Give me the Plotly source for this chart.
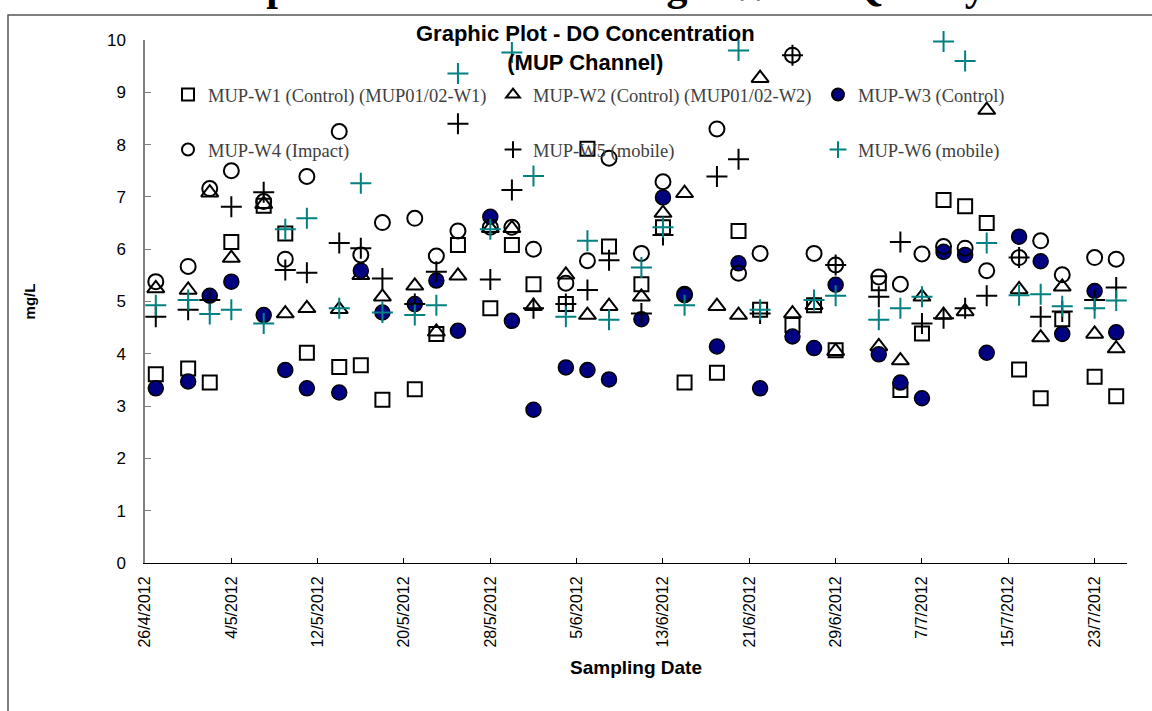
import pandas as pd
import plotly.graph_objects as go

# Sampling dates (three rounds per week)
sample_dates = [
    "2012-04-27", "2012-04-30", "2012-05-02", "2012-05-04", "2012-05-07", "2012-05-09",
    "2012-05-11", "2012-05-14", "2012-05-16", "2012-05-18", "2012-05-21", "2012-05-23",
    "2012-05-25", "2012-05-28", "2012-05-30", "2012-06-01", "2012-06-04", "2012-06-06",
    "2012-06-08", "2012-06-11", "2012-06-13", "2012-06-15", "2012-06-18", "2012-06-20",
    "2012-06-22", "2012-06-25", "2012-06-27", "2012-06-29", "2012-07-03", "2012-07-05",
    "2012-07-07", "2012-07-09", "2012-07-11", "2012-07-13", "2012-07-16", "2012-07-18",
    "2012-07-20", "2012-07-23", "2012-07-25",
]

# Dissolved oxygen (mg/L) per station
w1_control = [3.61, 3.72, 3.45, 6.14, 6.83, 6.30, 4.02, 3.75, 3.78, 3.12, 3.32, 4.38, 6.08,
              4.87, 6.08, 5.33, 4.95, 7.92, 6.05, 5.33, 6.42, 3.45, 3.64, 6.35, 4.84, 4.55,
              4.93, 4.07, 5.35, 3.31, 4.39, 6.94, 6.82, 6.50, 3.70, 3.15, 4.66, 3.56, 3.19]
w2_control = [5.25, 5.22, 7.08, 5.83, 6.86, 4.77, 4.87, 4.85, 5.50, 5.09, 5.30, 4.42, 5.49,
              6.40, 6.40, 4.91, 5.51, 4.74, 4.91, 5.09, 6.69, 7.07, 4.91, 4.74, 9.27, 4.77,
              4.93, 4.05, 4.14, 3.87, 5.09, 4.74, 4.81, 8.66, 5.23, 4.31, 5.28, 4.38, 4.10]
w3_control = [3.34, 3.47, 5.11, 5.38, 4.74, 3.69, 3.34, 3.26, 5.59, 4.79, 4.95, 5.40, 4.44,
              6.62, 4.63, 2.93, 3.74, 3.69, 3.51, 4.66, 6.99, 5.12, 4.14, 5.73, 3.34, 4.33,
              4.11, 5.32, 3.99, 3.45, 3.15, 5.95, 5.89, 4.02, 6.24, 5.77, 4.38, 5.20, 4.41]
w4_impact = [5.38, 5.67, 7.16, 7.50, 6.91, 5.81, 7.39, 8.25, 5.89, 6.51, 6.59, 5.87, 6.35,
             6.42, 6.42, 6.00, 5.35, 5.78, 7.74, 5.92, 7.29, 5.14, 8.30, 5.54, 5.92, 9.71,
             5.92, 5.70, 5.47, 5.33, 5.91, 6.05, 6.02, 5.59, 5.84, 6.16, 5.51, 5.84, 5.81]
w5_mobile = [4.71, 4.84, 5.03, 6.81, 7.09, 5.60, 5.55, 6.12, 6.02, 5.44, 4.95, 5.57, 8.40,
             5.42, 7.13, 4.87, 4.95, 5.22, 5.79, 4.77, 6.27, None, 7.39, 7.72, 4.77, 9.71,
             None, 5.70, 5.09, 6.14, 4.58, 4.68, 4.87, 5.11, 5.84, 4.71, 4.81, 5.03, 5.27]
w6_mobile = [4.93, 5.03, 4.76, 4.84, 4.58, 6.38, 6.59, 4.87, 7.26, 4.79, 4.74, 4.93, 9.36,
             6.38, 9.76, 7.40, 4.71, 6.16, 4.65, 5.65, 6.42, 4.93, None, 9.80, 4.84, None,
             5.03, 5.11, 4.65, 4.87, 5.09, 9.97, 9.60, 6.12, 5.12, 5.14, 4.91, 4.87, 5.02]

series_names = [
    "MUP-W1 (Control) (MUP01/02-W1)",
    "MUP-W2 (Control) (MUP01/02-W2)",
    "MUP-W3 (Control)",
    "MUP-W4 (Impact)",
    "MUP-W5 (mobile)",
    "MUP-W6 (mobile)",
]

# Date axis ticks every eight days
tick_dates = pd.date_range("2012-04-26", "2012-07-23", freq="8D")
tick_labels = [f"{d.day}/{d.month}/{d.year}" for d in tick_dates]

# Page geometry (pixels)
W, H = 1152, 711
ML, MR, MT, MB = 145, 25, 40, 148
PW = W - ML - MR
PH = H - MT - MB


def px_x(x):
    return (x - ML) / PW


def px_y(y):
    return (H - MB - y) / PH


NARROW = "Liberation Sans Narrow, Arial Narrow, Liberation Sans, Arial, sans-serif"
SANS = "Liberation Sans, Arial, sans-serif"
SERIF = "Liberation Serif, Times New Roman, serif"

styles = [
    dict(symbol="square-open", size=14, color="black", line=dict(color="black", width=2)),
    dict(symbol="triangle-up-open", size=15, color="black", line=dict(color="black", width=2)),
    dict(symbol="circle", size=15, color="#000080", line=dict(color="black", width=1.5)),
    dict(symbol="circle-open", size=15, color="black", line=dict(color="black", width=2)),
    dict(symbol="cross-thin", size=15, color="black", line=dict(color="black", width=2)),
    dict(symbol="cross-thin", size=15, color="#008080", line=dict(color="#008080", width=2)),
]

values = [w1_control, w2_control, w3_control, w4_impact, w5_mobile, w6_mobile]

fig = go.Figure()
legend_ids = ["legend", "legend2", "legend3", "legend4", "legend5", "legend6"]
for name, vals, st, lid in zip(series_names, values, styles, legend_ids):
    fig.add_trace(go.Scatter(
        x=pd.to_datetime(sample_dates), y=vals, mode="markers", name=name,
        marker=st, legend=lid, cliponaxis=False,
    ))

# Legend entries laid out in two rows of three
legend_centres = [(190, 95), (515, 95), (840, 95), (190, 150), (515, 150), (840, 150)]
legend_layout = {}
for lid, (cx, cy) in zip(legend_ids, legend_centres):
    legend_layout[lid] = dict(
        x=px_x(cx - 22), y=px_y(cy), xanchor="left", yanchor="middle",
        bgcolor="rgba(0,0,0,0)", borderwidth=0, itemsizing="constant",
        font=dict(family=SERIF, size=18.5, color="#404040"),
    )

fig.update_layout(
    width=W, height=H,
    margin=dict(l=ML, r=MR, t=MT, b=MB, autoexpand=False),
    paper_bgcolor="white", plot_bgcolor="white",
    showlegend=True,
    **legend_layout,
    xaxis=dict(
        type="date", range=["2012-04-26", "2012-07-26"],
        tickvals=tick_dates, ticktext=tick_labels, tickangle=-90,
        ticks="inside", ticklen=5, tickcolor="black", tickwidth=1,
        showline=True, linecolor="black", linewidth=1,
        showgrid=False, zeroline=False, ticklabelstandoff=6,
        tickfont=dict(family=SANS, size=16, color="black"),
        title=dict(text="Sampling Date", standoff=14,
                   font=dict(family=NARROW, size=19, color="black", weight="bold")),
    ),
    yaxis=dict(
        range=[0, 10], dtick=1, tick0=0,
        ticks="inside", ticklen=6, tickcolor="#808080", tickwidth=1,
        showline=True, linecolor="#808080", linewidth=1.5,
        showgrid=False, zeroline=False, ticklabelstandoff=14,
        tickfont=dict(family=NARROW, size=17, color="black"),
        title=dict(text="mg/L", standoff=68,
                   font=dict(family=SANS, size=15, color="black", weight="bold")),
    ),
)

# Chart title inside the plot area
fig.add_annotation(
    text="Graphic Plot - DO Concentration<br>(MUP Channel)",
    x=px_x(585), y=px_y(48), xref="paper", yref="paper",
    xanchor="center", yanchor="middle", showarrow=False,
    font=dict(family=NARROW, size=22, color="black", weight="bold"),
)

# Page heading running off the top edge
fig.add_annotation(
    text="Graphic Plot of Monitoring \u2013 Water Quality",
    x=px_x(590), y=px_y(-14), xref="paper", yref="paper",
    xanchor="center", yanchor="middle", showarrow=False,
    font=dict(family=SERIF, size=42, color="black", weight="bold"),
)

# Chart area frame
fig.add_shape(
    type="rect", xref="paper", yref="paper",
    x0=px_x(8), x1=px_x(1170), y0=px_y(730), y1=px_y(15),
    line=dict(color="#555555", width=1.5), fillcolor="rgba(0,0,0,0)", layer="below",
)

fig.write_html("out.html")
